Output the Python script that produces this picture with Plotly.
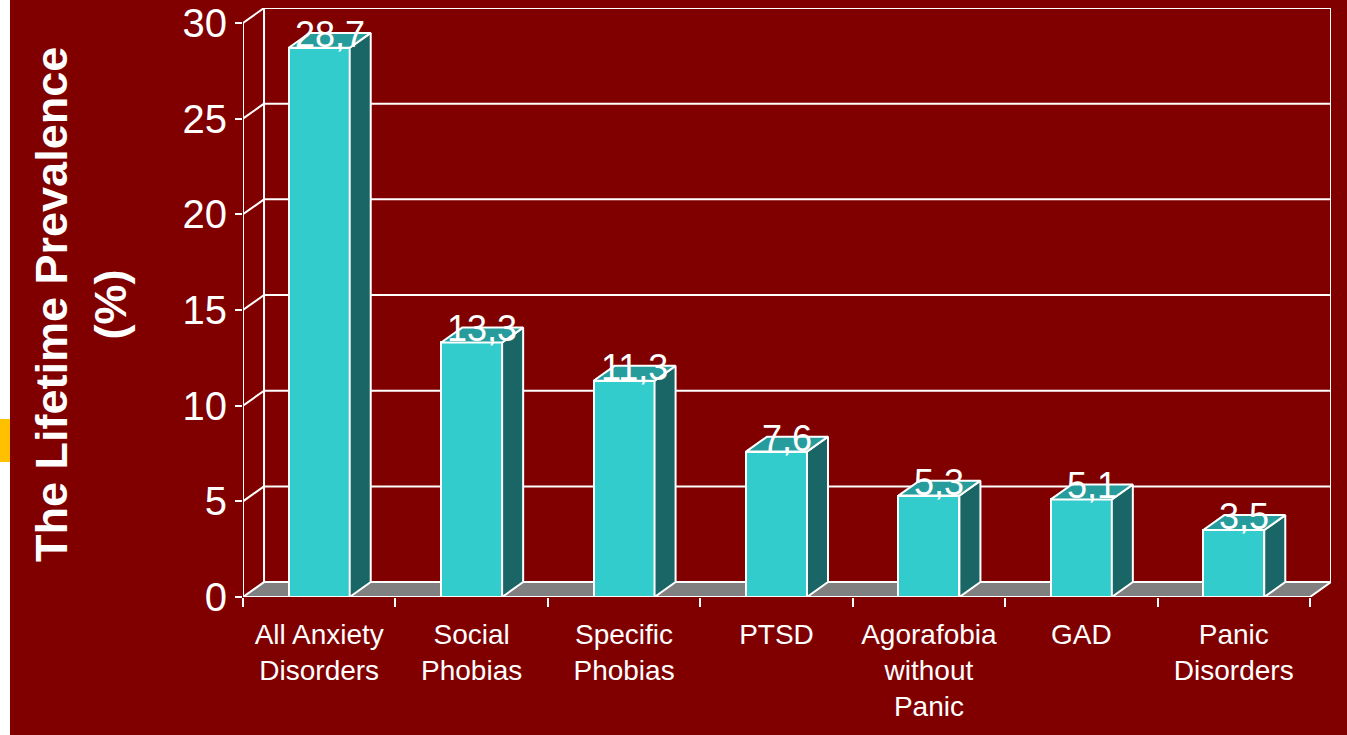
import plotly.graph_objects as go

# ---------------- data ----------------
categories = ["All Anxiety<br>Disorders", "Social<br>Phobias", "Specific<br>Phobias", "PTSD",
              "Agorafobia<br>without<br>Panic", "GAD", "Panic<br>Disorders"]
values = [28.7, 13.3, 11.3, 7.6, 5.3, 5.1, 3.5]
value_labels = ["28,7", "13,3", "11,3", "7,6", "5,3", "5,1", "3,5"]
y_ticks = [0, 5, 10, 15, 20, 25, 30]
y_title = "The Lifetime Prevalence<br>(%)"

# ---------------- styling / layout constants ----------------
W, H = 1347, 735
ML, MR, MT, MB = 243, 16, 8, 138
BG = "#800000"
FRONT = "#33CCCC"
SIDE = "#1A6666"
TOP = "#279C9C"
FLOOR = "#808080"
EDGE = "white"
LW = 2
FONT = "Arial, Liberation Sans, sans-serif"

DX = 0.138   # depth offset in category units
DY = 0.78    # depth offset in value units
BW = 0.4     # bar width (category units)

n = len(categories)
xs = list(range(n))
x_lo, x_hi = -0.5, n - 0.5
y_max = max(y_ticks)

PW = W - ML - MR
PH = H - MT - MB


def pxx(px):
    return (px - ML) / PW


def pxy(py):
    return (H - MB - py) / PH


fig = go.Figure()

# invisible helper trace to activate the boundary-tick axis
fig.add_trace(go.Scatter(x=[x_lo, x_hi], y=[0, 0], xaxis="x2", mode="markers",
                         marker=dict(opacity=0), hoverinfo="skip", showlegend=False))

# side and top faces of the 3-D bars
for xi, v in zip(xs, values):
    xr = xi + BW / 2
    xl = xi - BW / 2
    fig.add_trace(go.Scatter(
        x=[xr, xr, xr + DX, xr + DX, xr], y=[0, v, v + DY, DY, 0],
        mode="lines", fill="toself", fillcolor=SIDE,
        line=dict(color=EDGE, width=LW), hoverinfo="skip", showlegend=False))
    fig.add_trace(go.Scatter(
        x=[xl, xr, xr + DX, xl + DX, xl], y=[v, v, v + DY, v + DY, v],
        mode="lines", fill="toself", fillcolor=TOP,
        line=dict(color=EDGE, width=LW), hoverinfo="skip", showlegend=False))

# front faces
fig.add_trace(go.Bar(x=xs, y=values, width=BW,
                     marker=dict(color=FRONT, line=dict(color=EDGE, width=LW)),
                     hoverinfo="skip", showlegend=False))

shapes = []
# floor
shapes.append(dict(type="path", xref="x", yref="y", layer="below",
                   path=f"M {x_lo},0 L {x_hi},0 L {x_hi + DX},{DY} L {x_lo + DX},{DY} Z",
                   fillcolor=FLOOR, line=dict(color=EDGE, width=LW)))
# back wall gridlines and left wall diagonals
for v in y_ticks:
    if v > 0:
        shapes.append(dict(type="line", xref="x", yref="y", layer="below",
                           x0=x_lo + DX, x1=x_hi + DX, y0=v + DY, y1=v + DY,
                           line=dict(color=EDGE, width=LW)))
        shapes.append(dict(type="line", xref="x", yref="y", layer="below",
                           x0=x_lo, x1=x_lo + DX, y0=v, y1=v + DY,
                           line=dict(color=EDGE, width=LW)))
# back wall verticals
for xv in (x_lo + DX, x_hi + DX):
    shapes.append(dict(type="line", xref="x", yref="y", layer="below",
                       x0=xv, x1=xv, y0=DY, y1=y_max + DY,
                       line=dict(color=EDGE, width=LW)))
# front value axis
shapes.append(dict(type="line", xref="x", yref="y", layer="below",
                   x0=x_lo, x1=x_lo, y0=0, y1=y_max,
                   line=dict(color=EDGE, width=LW)))
# page decorations: white left strip and orange marker
shapes.append(dict(type="rect", xref="paper", yref="paper", layer="above",
                   x0=pxx(0), x1=pxx(10), y0=pxy(H), y1=pxy(0),
                   fillcolor="white", line=dict(width=0)))
shapes.append(dict(type="rect", xref="paper", yref="paper", layer="above",
                   x0=pxx(0), x1=pxx(10), y0=pxy(462), y1=pxy(419),
                   fillcolor="#FFC000", line=dict(width=0)))

annotations = []
for xi, v, t in zip(xs, values, value_labels):
    annotations.append(dict(x=xi + DX / 2, y=v, xref="x", yref="y", text=t,
                            showarrow=False, yanchor="bottom", xanchor="center",
                            yshift=-9, font=dict(family=FONT, size=36, color="white")))
annotations.append(dict(x=pxx(81), y=pxy(305), xref="paper", yref="paper",
                        text=f"<b>{y_title}</b>", textangle=-90, showarrow=False,
                        xanchor="center", yanchor="middle",
                        font=dict(family=FONT, size=45, color="white")))

fig.update_layout(
    width=W, height=H,
    margin=dict(l=ML, r=MR, t=MT, b=MB, pad=0, autoexpand=False),
    paper_bgcolor=BG, plot_bgcolor=BG,
    showlegend=False, bargap=0,
    shapes=shapes, annotations=annotations,
    xaxis=dict(range=[x_lo, x_hi + DX], tickmode="array", tickvals=xs, ticktext=categories,
               ticks="outside", ticklen=12, tickcolor="rgba(0,0,0,0)", automargin=False,
               showgrid=False, zeroline=False, showline=False,
               tickfont=dict(family=FONT, size=28, color="white")),
    xaxis2=dict(range=[x_lo, x_hi + DX], overlaying="x", side="bottom", anchor="y",
                tickmode="array", tickvals=[x_lo + k for k in range(n + 1)], automargin=False,
                showticklabels=False, ticks="outside", ticklen=9, tickwidth=LW,
                tickcolor=EDGE, showgrid=False, zeroline=False, showline=False),
    yaxis=dict(range=[0, y_max + DY], tickmode="array", tickvals=y_ticks,
               ticks="outside", ticklen=7, tickwidth=LW, tickcolor=EDGE, automargin=False,
               showgrid=False, zeroline=False, showline=False,
               ticklabeloverflow="allow",
               tickfont=dict(family=FONT, size=40, color="white")),
)

fig.write_html("out.html")
